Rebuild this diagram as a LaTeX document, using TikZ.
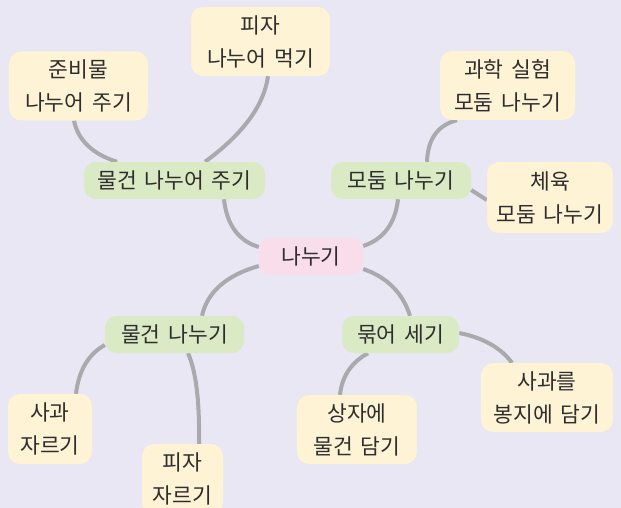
\documentclass[tikz,border=0pt]{standalone}
\usepackage{fontspec}
\setmainfont[WordSpace=1.6]{Noto Sans CJK KR}
\definecolor{bgc}{HTML}{E8E7F3}
\definecolor{leafc}{HTML}{FFF3D6}
\definecolor{midc}{HTML}{DAEAC4}
\definecolor{rootc}{HTML}{FADDEB}
\definecolor{linkc}{HTML}{A9A9AE}
\definecolor{txt}{HTML}{2E2E2E}
\pgfdeclarelayer{bglayer}
\pgfdeclarelayer{back}
\pgfsetlayers{bglayer,back,main}
\begin{document}
\begin{tikzpicture}[x=1pt,y=-1pt,
  box/.style={rounded corners=12pt, inner sep=0pt, align=center,
    font=\fontsize{21.5}{33}\selectfont, text=txt},
  leaf/.style={box, fill=leafc, minimum height=69pt},
  midn/.style={box, fill=midc, minimum height=37pt},
  rootn/.style={box, fill=rootc, minimum height=37pt},
  link/.style={draw=linkc, line width=4pt}]
\begin{pgfonlayer}{bglayer}
\fill[bgc] (0,0) rectangle (621,508);
\end{pgfonlayer}
\useasboundingbox (0,0) rectangle (621,508);
\clip (0,0) rectangle (621,508);

\node[rootn, minimum width=104pt] (root) at (311,256.5) {나누기};
\node[midn, minimum width=181pt] (mg1) at (174.5,180.5) {물건 나누어 주기};
\node[midn, minimum width=140pt] (md) at (401,180.5) {모둠 나누기};
\node[midn, minimum width=139pt] (mg2) at (174.5,334.5) {물건 나누기};
\node[midn, minimum width=117pt] (mk) at (400.5,334.5) {묶어 세기};

\node[leaf, minimum width=139pt] (pz1) at (260.5,41.5) {피자\\나누어 먹기};
\node[leaf, minimum width=139pt] (jb) at (78.5,86) {준비물\\나누어 주기};
\node[leaf, minimum width=135pt] (sci) at (507.5,85.5) {과학 실험\\모둠 나누기};
\node[leaf, minimum width=126pt, minimum height=71pt] (pe) at (550,197.5) {체육\\모둠 나누기};
\node[leaf, minimum width=84pt, minimum height=70pt] (ap) at (50,429) {사과\\자르기};
\node[leaf, minimum width=81pt, minimum height=70pt] (pz2) at (182.5,479) {피자\\자르기};
\node[leaf, minimum width=132pt] (bag) at (547,397.5) {사과를\\봉지에 담기};
\node[leaf, minimum width=120pt] (boxn) at (357,429.5) {상자에\\물건 담기};

\begin{pgfonlayer}{back}
\draw[link] ([xshift=-4.5pt]jb.south) .. controls (78,140) and (92.3,154) .. ([xshift=-57.5pt]mg1.north);
\draw[link] ([xshift=7.5pt]pz1.south) .. controls (264,105.3) and (243,134) .. ([xshift=30.5pt]mg1.north);
\draw[link] ([xshift=49.5pt]mg1.south) .. controls (226.7,225) and (238.7,241) .. ([yshift=9.5pt]root.west);
\draw[link] ([yshift=10.5pt]root.east) .. controls (383.3,239.3) and (395.3,223.7) .. ([xshift=-3pt]md.south);
\draw[link] ([xshift=26pt]md.north) .. controls (427.7,139.3) and (437.7,125) .. ([xshift=-50.5pt]sci.south);
\draw[link] ([yshift=-9.5pt]md.east) -- ([yshift=-2.5pt]pe.west);
\draw[link] ([yshift=-9.5pt]root.west) .. controls (226.3,275.3) and (207.3,292) .. ([xshift=27.5pt]mg2.north);
\draw[link] ([yshift=-10.5pt]mg2.west) .. controls (89,353.7) and (78.7,370) .. ([xshift=26pt]ap.north);
\draw[link] ([xshift=13.5pt]mg2.south) .. controls (196,371) and (199.7,401.3) .. ([xshift=16.5pt]pz2.north);
\draw[link] ([yshift=-12.5pt]root.east) .. controls (386.7,277) and (402.7,292.7) .. ([xshift=9.5pt]mk.north);
\draw[link] ([yshift=1.5pt]mk.east) .. controls (483,337.7) and (500.7,347.7) .. ([xshift=-35pt]bag.north);
\draw[link] ([xshift=-32.5pt]mk.south) .. controls (351.3,362.3) and (342,376.3) .. ([xshift=-17pt]boxn.north);
\end{pgfonlayer}
\end{tikzpicture}
\end{document}
